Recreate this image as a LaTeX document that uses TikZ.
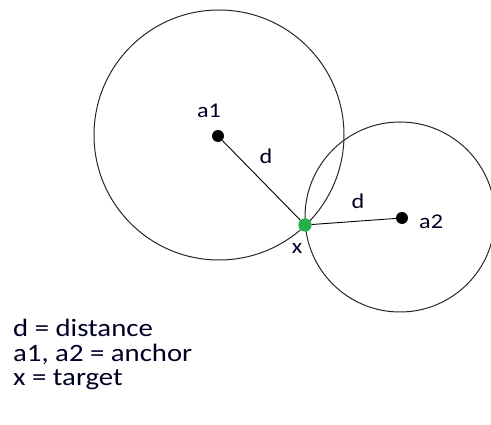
\documentclass[tikz,border=0pt]{standalone}
\usepackage{fontspec}
\setmainfont{Carlito}
\newfontfamily\widefont[FakeStretch=1.15]{Carlito}
\begin{document}
\begin{tikzpicture}[x=1pt,y=-1pt,
  ring/.style={draw=black!85,line width=1pt},
  anchorpt/.style={circle,fill=black,inner sep=0pt,minimum size=12pt},
  targetpt/.style={circle,fill=ForestGreen,inner sep=0pt,minimum size=13pt},
  conn/.style={draw=black,line width=0.9pt},
  lbl/.style={font=\widefont\fontsize{21}{24}\selectfont,text=black!85!blue,inner sep=0pt},
  legend/.style={font=\widefont\fontsize{25}{28}\selectfont,text=black!85!blue,inner sep=0pt,anchor=base west}]
\useasboundingbox (0,0) rectangle (491,425);
\definecolor{ForestGreen}{RGB}{34,177,76}
\draw[ring] (219,135) circle (125);
\draw[ring] (400,217) circle (95);
\node[anchorpt] (a1) at (218,136) {};
\node[anchorpt] (a2) at (402,218) {};
\node[targetpt] (x) at (305,225) {};
\draw[conn] (a1) -- (x);
\draw[conn] (x) -- (a2);
\node[targetpt] at (x) {};
\node[lbl] (la1) at (209,111) {a1};
\node[lbl] (ld1) at (266,156) {d};
\node[lbl] (ld2) at (358,201) {d};
\node[lbl,anchor=west] (la2) at (419,222) {a2};
\node[lbl] (lx) at (297,248) {x};
\node[legend] (l1) at (13,337) {d = distance};
\node[legend] (l2) at (13,362) {a1, a2 = anchor};
\node[legend] (l3) at (13,386) {x = target};
\end{tikzpicture}
\end{document}
